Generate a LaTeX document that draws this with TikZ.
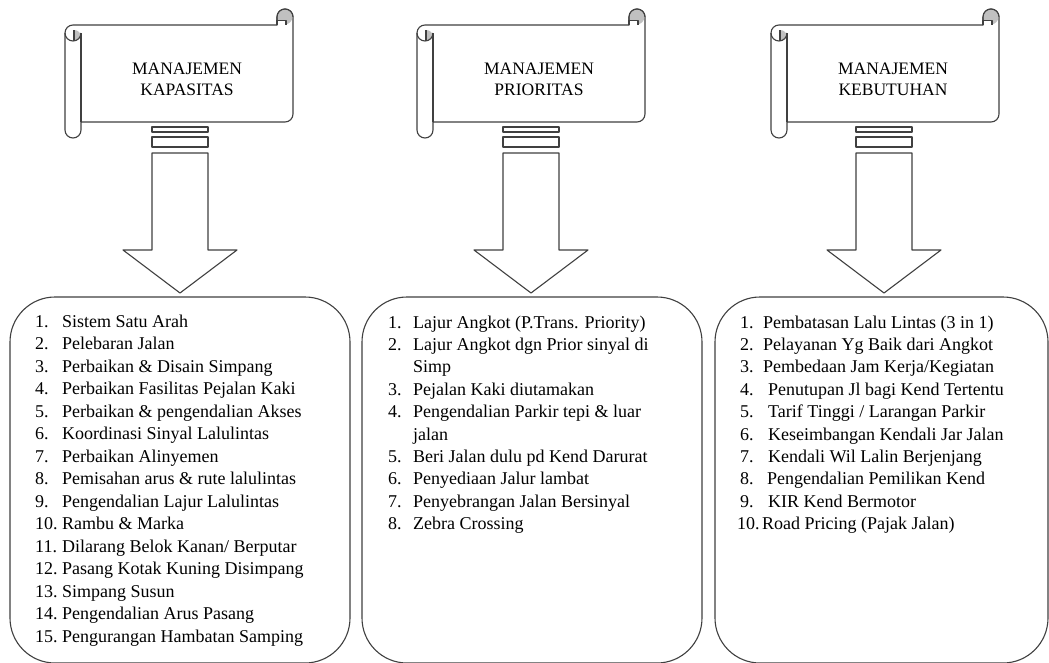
\documentclass[tikz,border=0pt]{standalone}
\usepackage{fontspec}
\setmainfont{Liberation Serif}
\definecolor{ln}{RGB}{64,64,64}
\definecolor{curl}{RGB}{192,192,192}
\tikzset{
  shp/.style={draw=ln, line width=1.1pt, line join=round},
  item/.style={anchor=base west, inner sep=0pt, font=\fontsize{18}{22.5}\selectfont},
  head/.style={align=center, inner sep=0pt, font=\fontsize{17.5}{21}\selectfont},
}
% scroll: #1 = left x
\newcommand{\drawscroll}[1]{%
  \begin{scope}[shift={(#1,0)}]
    % body outline
    \filldraw[shp, fill=white] (0,33) arc[start angle=180, end angle=270, radius=8]
      -- (212,25) -- (212,17) arc[start angle=180, end angle=360, radius=8]
      -- (228,114) arc[start angle=0, end angle=90, radius=8]
      -- (16,122) -- (16,130) arc[start angle=0, end angle=180, radius=8] -- cycle;
    % right curl
    \fill[curl] (220,17) circle[radius=7.4];
    \filldraw[shp, fill=white] (212,25) -- (212,20.5) -- (221,20.5) -- (221,25);
    \draw[shp] (212,25) -- (212,17) arc[start angle=180, end angle=360, radius=8];
    % left curl
    \fill[curl] (9,30) arc[start angle=-90, end angle=90, x radius=6.5, y radius=5.5] -- cycle;
    \draw[shp] (0,33) arc[start angle=180, end angle=0, radius=8];
    \draw[shp] (9,30) -- (9,41);
    \draw[shp] (16,33) -- (16,122);
  \end{scope}}
% block arrow: #1 = centre x
\newcommand{\drawblockarrow}[1]{%
  \begin{scope}[shift={(#1,0)}]
    \draw[shp] (-28,127) rectangle (28,132);
    \draw[shp] (-28,137) rectangle (28,147);
    \draw[shp] (-28,153) -- (28,153) -- (28,250) -- (57,250) -- (0,293)
      -- (-57,250) -- (-28,250) -- cycle;
  \end{scope}}
\begin{document}
\begin{tikzpicture}[x=1pt, y=-1pt]
\useasboundingbox (0,0) rectangle (1049,662);
\fill[white] (0,0) rectangle (1049,662);

% scrolls and headings
\drawscroll{65}
\drawscroll{417}
\drawscroll{771}
\node[head] (h1) at (187,79) {MANAJEMEN\\KAPASITAS};
\node[head] (h2) at (539,79) {MANAJEMEN\\PRIORITAS};
\node[head] (h3) at (893,79) {MANAJEMEN\\KEBUTUHAN};

% block arrows
\drawblockarrow{180}
\drawblockarrow{531}
\drawblockarrow{884}

% list boxes
\draw[shp, rounded corners=45pt] (10,297) rectangle (350,663);
\draw[shp, rounded corners=45pt] (362,297) rectangle (702,663);
\draw[shp, rounded corners=45pt] (715,297) rectangle (1048,663);

% list 1
\foreach \txt [count=\i] in {Sistem Satu Arah, Pelebaran Jalan, Perbaikan \& Disain Simpang,
  Perbaikan Fasilitas Pejalan Kaki, Perbaikan \& pengendalian Akses, Koordinasi Sinyal Lalulintas,
  Perbaikan Alinyemen, Pemisahan arus \& rute lalulintas, Pengendalian Lajur Lalulintas,
  Rambu \& Marka, Dilarang Belok Kanan/ Berputar, Pasang Kotak Kuning Disimpang,
  Simpang Susun, Pengendalian Arus Pasang, Pengurangan Hambatan Samping}{
  \node[item] (ka-n\i) at (35,{327+22.5*(\i-1)}) {\i.};
  \node[item] (ka-t\i) at (62,{327+22.5*(\i-1)}) {\txt};
}

% list 2
\foreach \num/\txt [count=\k] in {1./Lajur Angkot (P.Trans. Priority), 2./Lajur Angkot dgn Prior sinyal di,
  /Simp, 3./Pejalan Kaki diutamakan, 4./Pengendalian Parkir tepi \& luar, /jalan,
  5./Beri Jalan dulu pd Kend Darurat, 6./Penyediaan Jalur lambat,
  7./Penyebrangan Jalan Bersinyal, 8./Zebra Crossing}{
  \node[item] (pr-n\k) at (388,{328+22.4*(\k-1)}) {\num};
  \node[item] (pr-t\k) at (413,{328+22.4*(\k-1)}) {\txt};
}

% list 3
\foreach \nx/\x/\txt [count=\i] in {740/763/{Pembatasan Lalu Lintas (3 in 1)}, 740/763/{Pelayanan Yg Baik dari Angkot},
  740/763/{Pembedaan Jam Kerja/Kegiatan}, 740/768/{Penutupan Jl bagi Kend Tertentu},
  740/768/{Tarif Tinggi / Larangan Parkir}, 740/768/{Keseimbangan Kendali Jar Jalan},
  740/768/{Kendali Wil Lalin Berjenjang}, 740/767/{Pengendalian Pemilikan Kend},
  740/768/{KIR Kend Bermotor}, 737/762/{Road Pricing (Pajak Jalan)}}{
  \node[item] (kb-n\i) at (\nx,{328+22.4*(\i-1)}) {\i.};
  \node[item] (kb-t\i) at (\x,{328+22.4*(\i-1)}) {\txt};
}
\end{tikzpicture}
\end{document}
